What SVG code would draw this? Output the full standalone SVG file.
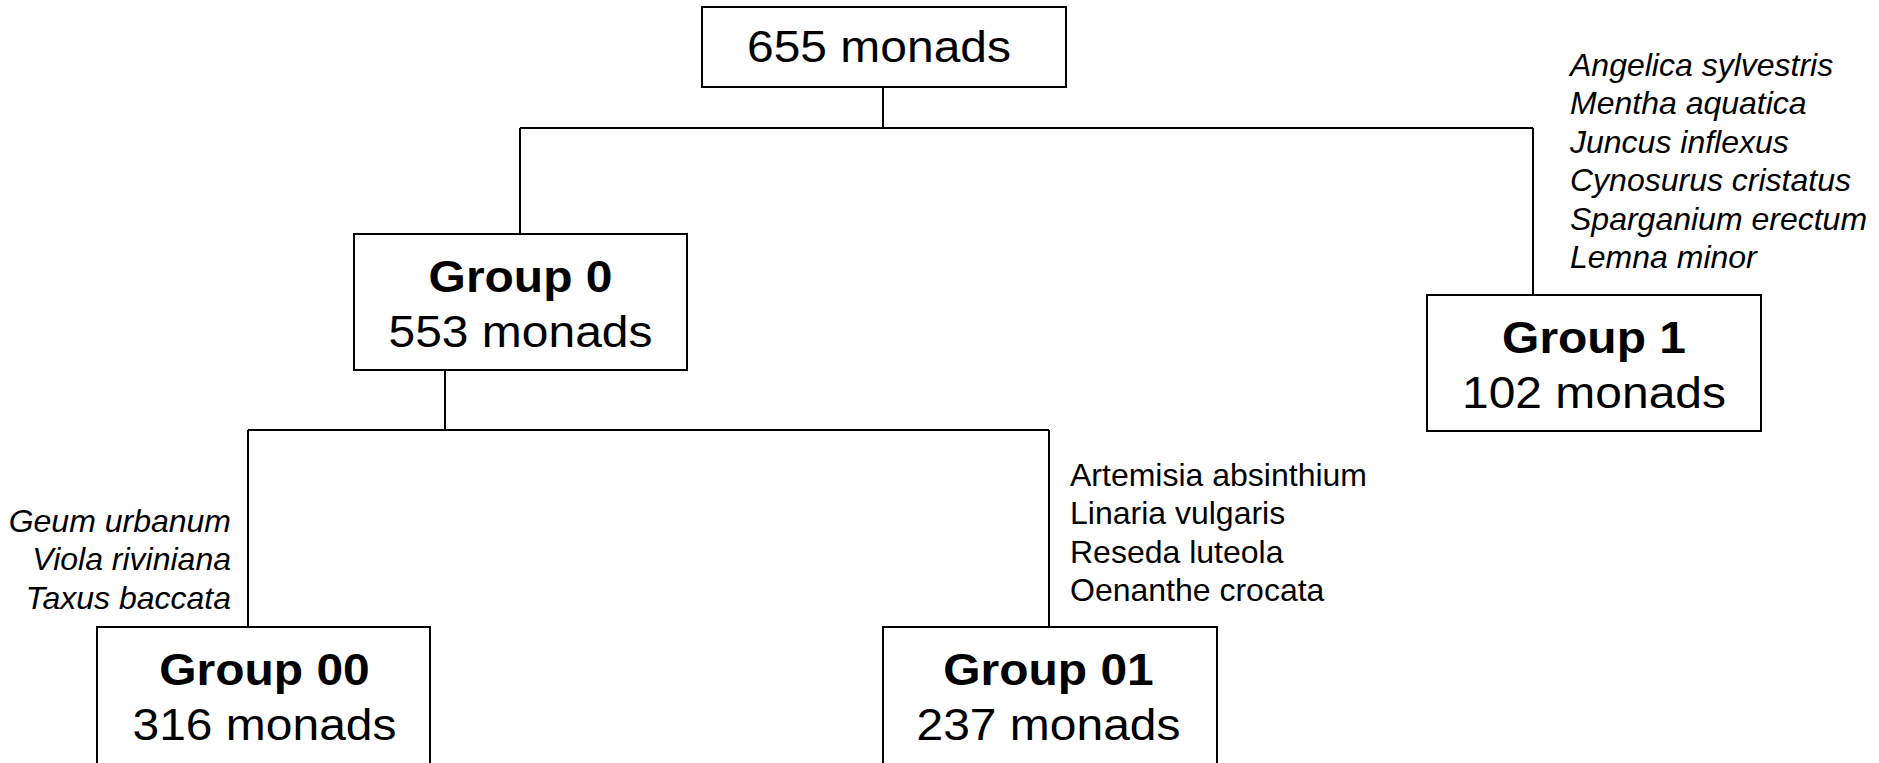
<svg xmlns="http://www.w3.org/2000/svg" width="1879" height="763" viewBox="0 0 1879 763">
<style>
.box{fill:#fff;stroke:#000;stroke-width:2}
.big{font-family:"Liberation Sans",Arial,sans-serif;font-size:44px;fill:#000;text-anchor:middle}
.b{font-weight:bold}
.sp{font-family:"Liberation Sans",Arial,sans-serif;font-size:32px;fill:#000}
.it{font-style:italic}
.con{stroke:#000;stroke-width:2;fill:none}
</style>
<rect width="1879" height="763" fill="#fff"/>
<g id="connectors">
<path class="con" d="M883 87V128M520 128H1533M520 128V234M1533 128V295M445 370V430M248 430H1049M248 430V627M1049 430V627"/>
</g>
<g id="root">
<rect class="box" x="702" y="7" width="364" height="80"/>
<text class="big" transform="translate(879 62) scale(1.09 1)">655 monads</text>
</g>
<g id="group0">
<rect class="box" x="354" y="234" width="333" height="136"/>
<text class="big b" transform="translate(520.5 292) scale(1.09 1)">Group 0</text>
<text class="big" transform="translate(520.5 347) scale(1.09 1)">553 monads</text>
</g>
<g id="group1">
<rect class="box" x="1427" y="295" width="334" height="136"/>
<text class="big b" transform="translate(1594 353) scale(1.09 1)">Group 1</text>
<text class="big" transform="translate(1594 408) scale(1.09 1)">102 monads</text>
</g>
<g id="group00">
<rect class="box" x="97" y="627" width="333" height="160"/>
<text class="big b" transform="translate(264.5 685) scale(1.09 1)">Group 00</text>
<text class="big" transform="translate(264.5 740) scale(1.09 1)">316 monads</text>
</g>
<g id="group01">
<rect class="box" x="883" y="627" width="334" height="160"/>
<text class="big b" transform="translate(1048.5 685) scale(1.09 1)">Group 01</text>
<text class="big" transform="translate(1048.5 740) scale(1.09 1)">237 monads</text>
</g>
<g id="species1">
<text class="sp it" x="1570" y="76">Angelica sylvestris</text>
<text class="sp it" x="1570" y="114.4">Mentha aquatica</text>
<text class="sp it" x="1570" y="152.8">Juncus inflexus</text>
<text class="sp it" x="1570" y="191.2">Cynosurus cristatus</text>
<text class="sp it" x="1570" y="229.6">Sparganium erectum</text>
<text class="sp it" x="1570" y="268">Lemna minor</text>
</g>
<g id="species00">
<text class="sp it" x="231" y="532" text-anchor="end">Geum urbanum</text>
<text class="sp it" x="231" y="570.3" text-anchor="end">Viola riviniana</text>
<text class="sp it" x="231" y="608.6" text-anchor="end">Taxus baccata</text>
</g>
<g id="species01">
<text class="sp" x="1070" y="486">Artemisia absinthium</text>
<text class="sp" x="1070" y="524.3">Linaria vulgaris</text>
<text class="sp" x="1070" y="562.6">Reseda luteola</text>
<text class="sp" x="1070" y="600.9">Oenanthe crocata</text>
</g>
</svg>
